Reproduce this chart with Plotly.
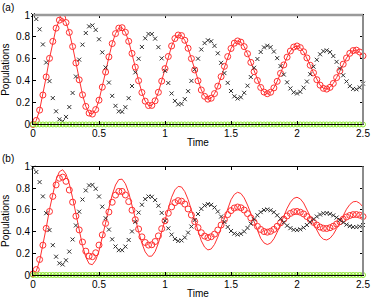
import plotly.graph_objects as go

# ---------------- data ----------------
time = [0.000, 0.025, 0.050, 0.075, 0.100, 0.125, 0.150, 0.175, 0.200, 0.225,
        0.250, 0.275, 0.300, 0.325, 0.350, 0.375, 0.400, 0.425, 0.450, 0.475,
        0.500, 0.525, 0.550, 0.575, 0.600, 0.625, 0.650, 0.675, 0.700, 0.725,
        0.750, 0.775, 0.800, 0.825, 0.850, 0.875, 0.900, 0.925, 0.950, 0.975,
        1.000, 1.025, 1.050, 1.075, 1.100, 1.125, 1.150, 1.175, 1.200, 1.225,
        1.250, 1.275, 1.300, 1.325, 1.350, 1.375, 1.400, 1.425, 1.450, 1.475,
        1.500, 1.525, 1.550, 1.575, 1.600, 1.625, 1.650, 1.675, 1.700, 1.725,
        1.750, 1.775, 1.800, 1.825, 1.850, 1.875, 1.900, 1.925, 1.950, 1.975,
        2.000, 2.025, 2.050, 2.075, 2.100, 2.125, 2.150, 2.175, 2.200, 2.225,
        2.250, 2.275, 2.300, 2.325, 2.350, 2.375, 2.400, 2.425, 2.450, 2.475,
        2.500]

# red population, panel (a) markers + line, and panel (b) line
red_coherent = [0.000, 0.037, 0.131, 0.269, 0.434, 0.604, 0.759, 0.880, 0.953, 0.971,
                0.931, 0.841, 0.712, 0.562, 0.408, 0.271, 0.165, 0.104, 0.095, 0.136,
                0.222, 0.341, 0.479, 0.617, 0.739, 0.830, 0.880, 0.884, 0.842, 0.760,
                0.649, 0.524, 0.400, 0.292, 0.213, 0.173, 0.174, 0.216, 0.294, 0.396,
                0.510, 0.621, 0.717, 0.785, 0.817, 0.812, 0.769, 0.696, 0.602, 0.498,
                0.399, 0.315, 0.257, 0.231, 0.240, 0.282, 0.350, 0.437, 0.531, 0.620,
                0.694, 0.743, 0.763, 0.752, 0.711, 0.646, 0.567, 0.482, 0.402, 0.338,
                0.296, 0.281, 0.294, 0.334, 0.394, 0.467, 0.544, 0.615, 0.671, 0.707,
                0.717, 0.702, 0.664, 0.608, 0.541, 0.472, 0.409, 0.359, 0.330, 0.323,
                0.339, 0.375, 0.428, 0.489, 0.551, 0.607, 0.650, 0.675, 0.679, 0.662,
                0.627]

# black population, panel (a)
black_a = [1.000, 0.963, 0.869, 0.731, 0.566, 0.396, 0.241, 0.120, 0.047, 0.029,
           0.069, 0.159, 0.288, 0.438, 0.592, 0.729, 0.835, 0.896, 0.905, 0.864,
           0.778, 0.659, 0.521, 0.383, 0.261, 0.170, 0.120, 0.116, 0.158, 0.240,
           0.351, 0.476, 0.600, 0.708, 0.787, 0.827, 0.826, 0.784, 0.706, 0.604,
           0.490, 0.379, 0.283, 0.215, 0.183, 0.188, 0.231, 0.304, 0.398, 0.502,
           0.601, 0.685, 0.743, 0.769, 0.760, 0.718, 0.650, 0.563, 0.469, 0.380,
           0.306, 0.257, 0.237, 0.248, 0.289, 0.354, 0.433, 0.518, 0.598, 0.662,
           0.704, 0.719, 0.706, 0.666, 0.606, 0.533, 0.456, 0.385, 0.329, 0.293,
           0.283, 0.298, 0.336, 0.392, 0.459, 0.528, 0.591, 0.641, 0.670, 0.677,
           0.661, 0.625, 0.572, 0.511, 0.449, 0.393, 0.350, 0.325, 0.321, 0.338,
           0.373]

# red population, panel (b) markers
red_b = [0.010, 0.050, 0.143, 0.275, 0.430, 0.586, 0.725, 0.831, 0.892, 0.903,
         0.864, 0.784, 0.672, 0.543, 0.416, 0.304, 0.220, 0.174, 0.169, 0.205,
         0.276, 0.370, 0.476, 0.581, 0.671, 0.737, 0.771, 0.771, 0.738, 0.677,
         0.598, 0.510, 0.424, 0.352, 0.300, 0.276, 0.279, 0.309, 0.361, 0.427,
         0.500, 0.570, 0.628, 0.668, 0.686, 0.681, 0.654, 0.609, 0.553, 0.493,
         0.437, 0.390, 0.359, 0.346, 0.353, 0.377, 0.415, 0.461, 0.511, 0.557,
         0.594, 0.618, 0.627, 0.620, 0.599, 0.566, 0.527, 0.487, 0.449, 0.420,
         0.401, 0.395, 0.403, 0.421, 0.449, 0.481, 0.515, 0.545, 0.568, 0.583,
         0.586, 0.579, 0.563, 0.539, 0.512, 0.485, 0.461, 0.442, 0.431, 0.429,
         0.436, 0.450, 0.470, 0.492, 0.515, 0.535, 0.549, 0.557, 0.558, 0.552,
         0.539]

# black population, panel (b)
black_b = [0.990, 0.950, 0.857, 0.725, 0.570, 0.414, 0.275, 0.169, 0.108, 0.097,
           0.136, 0.216, 0.328, 0.457, 0.584, 0.696, 0.780, 0.826, 0.831, 0.795,
           0.724, 0.630, 0.524, 0.419, 0.329, 0.263, 0.229, 0.229, 0.262, 0.323,
           0.402, 0.490, 0.576, 0.648, 0.700, 0.724, 0.721, 0.691, 0.639, 0.573,
           0.500, 0.430, 0.372, 0.332, 0.314, 0.319, 0.346, 0.391, 0.447, 0.507,
           0.563, 0.610, 0.641, 0.654, 0.647, 0.623, 0.585, 0.539, 0.489, 0.443,
           0.406, 0.382, 0.373, 0.380, 0.401, 0.434, 0.473, 0.513, 0.551, 0.580,
           0.599, 0.605, 0.597, 0.579, 0.551, 0.519, 0.485, 0.455, 0.432, 0.417,
           0.414, 0.421, 0.437, 0.461, 0.488, 0.515, 0.539, 0.558, 0.569, 0.571,
           0.564, 0.550, 0.530, 0.508, 0.485, 0.465, 0.451, 0.443, 0.442, 0.448,
           0.461]

# third population stays empty in both panels
green = [0.0] * 101

x_ticks = [0, 0.5, 1, 1.5, 2, 2.5]
x_tick_labels = ["0", "0.5", "1", "1.5", "2", "2.5"]
y_ticks = [0, 0.2, 0.4, 0.6, 0.8, 1]
y_tick_labels = ["0", "0.2", "0.4", "0.6", "0.8", "1"]
panel_labels = ["(a)", "(b)"]

# ---------------- style ----------------
RED = "#ff3030"
BLACK = "#303030"
GREEN = "#8ee833"
FONT = "Liberation Sans, Arial, Helvetica, sans-serif"

W, H = 374, 303
ML, MR, MT, MB = 33, 11, 15, 28
dom_a = [0.579, 1.0]
dom_b = [0.0, 0.417]

fig = go.Figure()


def add_panel(xa, ya, red_markers, red_line, black_vals):
    fig.add_trace(go.Scatter(x=time, y=red_line, mode="lines", xaxis=xa, yaxis=ya,
                             line=dict(color=RED, width=1), hoverinfo="skip",
                             showlegend=False))
    fig.add_trace(go.Scatter(x=time, y=red_markers, mode="markers", xaxis=xa, yaxis=ya,
                             marker=dict(symbol="circle-open", size=6, color=RED,
                                         line=dict(width=1)),
                             cliponaxis=False, showlegend=False))
    fig.add_trace(go.Scatter(x=time, y=black_vals, mode="markers", xaxis=xa, yaxis=ya,
                             marker=dict(symbol="x-thin-open", size=4, color=BLACK,
                                         line=dict(width=1, color=BLACK)),
                             cliponaxis=False, showlegend=False))
    fig.add_trace(go.Scatter(x=time, y=green, mode="lines+markers", xaxis=xa, yaxis=ya,
                             line=dict(color=GREEN, width=1),
                             marker=dict(symbol="circle-open", size=5, color=GREEN,
                                         line=dict(width=1)),
                             cliponaxis=False, showlegend=False))


add_panel("x", "y", red_coherent, red_coherent, black_a)
add_panel("x2", "y2", red_b, red_coherent, black_b)

axis_common = dict(showline=True, linecolor="black", linewidth=1, mirror="ticks",
                   ticks="inside", ticklen=3, tickwidth=1, tickcolor="black",
                   showgrid=False, zeroline=False, automargin=False,
                   tickfont=dict(family=FONT, size=10, color="black"))

xa_common = dict(axis_common, range=[0, 2.5], tickvals=x_ticks, ticktext=x_tick_labels,
                 domain=[0, 1],
                 title=dict(text="Time", font=dict(family=FONT, size=10, color="black"),
                            standoff=0))
ya_common = dict(axis_common, range=[0, 1], tickvals=y_ticks, ticktext=y_tick_labels,
                 title=dict(text="Populations", font=dict(family=FONT, size=10, color="black"),
                            standoff=4))

fig.update_layout(
    width=W, height=H,
    margin=dict(l=ML, r=MR, t=MT, b=MB, pad=0),
    paper_bgcolor="white", plot_bgcolor="white",
    font=dict(family=FONT, size=10, color="black"),
    xaxis=dict(xa_common, anchor="y"),
    yaxis=dict(ya_common, domain=dom_a, anchor="x"),
    xaxis2=dict(xa_common, anchor="y2"),
    yaxis2=dict(ya_common, domain=dom_b, anchor="x2"),
    showlegend=False,
    annotations=[
        dict(text=panel_labels[0], xref="paper", yref="paper", x=-0.1, y=1.03,
             xanchor="left", yanchor="middle", showarrow=False,
             font=dict(family=FONT, size=10, color="black")),
        dict(text=panel_labels[1], xref="paper", yref="paper", x=-0.1, y=0.447,
             xanchor="left", yanchor="middle", showarrow=False,
             font=dict(family=FONT, size=10, color="black")),
    ],
    shapes=[
        dict(type="line", xref="paper", yref="paper", x0=0, x1=1, y0=1, y1=1,
             line=dict(color="#9a9a9a", width=2.5), layer="above"),
        dict(type="line", xref="paper", yref="paper", x0=1, x1=1, y0=dom_a[0], y1=dom_a[1],
             line=dict(color="#8c8c8c", width=2), layer="above"),
        dict(type="line", xref="paper", yref="paper", x0=1, x1=1, y0=dom_b[0], y1=dom_b[1],
             line=dict(color="#8c8c8c", width=2), layer="above"),
    ],
)

fig.write_html("out.html",
               config={"displayModeBar": False, "staticPlot": True},
               post_script="document.body.style.margin='0';document.body.style.overflow='hidden';")
